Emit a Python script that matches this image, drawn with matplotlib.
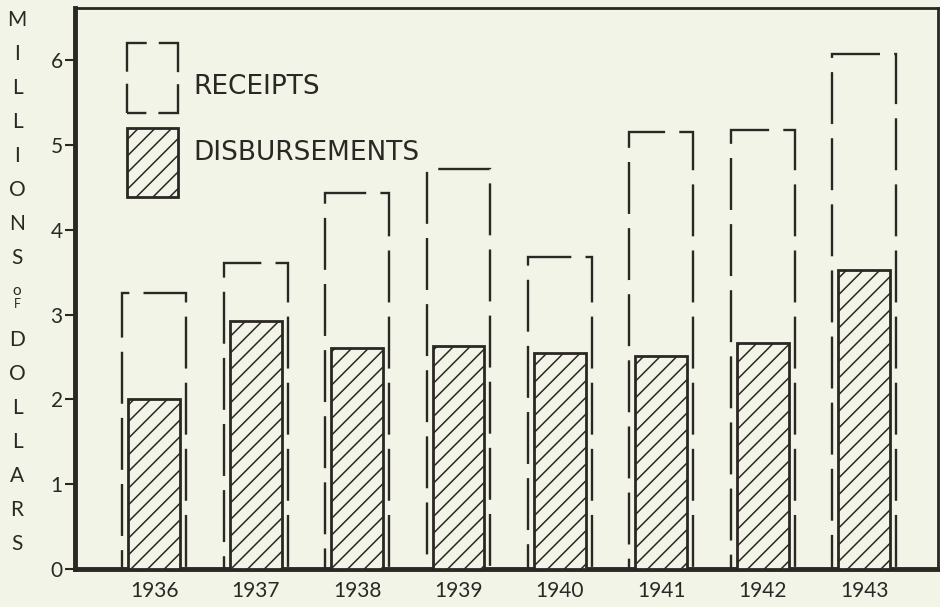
import matplotlib
matplotlib.use("Agg")
import matplotlib.pyplot as plt
from matplotlib.patches import Rectangle
import numpy as np

# data (millions of dollars)
years = ["1936", "1937", "1938", "1939", "1940", "1941", "1942", "1943"]
receipts = [3.25, 3.61, 4.43, 4.72, 3.68, 5.15, 5.18, 6.07]
disbursements = [2.00, 2.92, 2.60, 2.63, 2.55, 2.51, 2.67, 3.53]
yticks = [0, 1, 2, 3, 4, 5, 6]

bg = "#f2f4e7"
ink = "#2b2724"
plt.rcParams["font.family"] = ["Lato", "DejaVu Sans"]
plt.rcParams["hatch.linewidth"] = 1.1
plt.rcParams["hatch.color"] = ink

fig = plt.figure(figsize=(9.4, 6.07), dpi=100, facecolor=bg)
ax = fig.add_axes([0.080, 0.063, 0.918, 0.924], facecolor=bg)

x = np.arange(len(years))
ax.bar(x, receipts, width=0.63, fill=False, edgecolor=ink, linewidth=1.7,
       linestyle=(0, (22, 6)), zorder=2)
ax.bar(x, disbursements, width=0.51, facecolor=bg, edgecolor=ink,
       linewidth=2.0, hatch="//", zorder=3)

ax.set_xlim(-0.78, 7.73)
ax.set_ylim(0, 6.62)

ax.set_yticks(yticks)
ax.set_yticklabels([str(t) for t in yticks], fontsize=15, color=ink)
ax.tick_params(axis="y", direction="out", length=7, width=1.5, color=ink, pad=2)
ax.set_xticks(x)
ax.set_xticklabels(years, fontsize=15, color=ink)
ax.tick_params(axis="x", length=0, pad=9)

for side in ["left", "bottom"]:
    ax.spines[side].set_linewidth(3.5)
    ax.spines[side].set_color(ink)
for side in ["top", "right"]:
    ax.spines[side].set_linewidth(2.0)
    ax.spines[side].set_color(ink)

# legend, drawn by hand like the original
ax.add_patch(Rectangle((0.060, 0.813), 0.059, 0.125, transform=ax.transAxes,
                       fill=False, edgecolor=ink, linewidth=1.7,
                       linestyle=(12.3, (20.5, 5.1)), clip_on=False))
ax.add_patch(Rectangle((0.060, 0.663), 0.059, 0.123, transform=ax.transAxes,
                       facecolor=bg, edgecolor=ink, linewidth=2.0, hatch="//",
                       clip_on=False))
ax.text(0.137, 0.859, "RECEIPTS", transform=ax.transAxes, fontsize=19,
        family="DejaVu Sans", va="center", ha="left", color=ink)
ax.text(0.137, 0.742, "DISBURSEMENTS", transform=ax.transAxes, fontsize=19,
        family="DejaVu Sans", va="center", ha="left", color=ink)

# stacked y label
label_top = list("MILLIONS")
label_bot = list("DOLLARS")
y0 = 1 - 20 / 607
step = 34 / 607
for i, ch in enumerate(label_top):
    fig.text(17 / 940, y0 - i * step, ch, fontsize=15, ha="center", va="center", color=ink)
fig.text(17 / 940, 1 - 291 / 607, "o", fontsize=11, ha="center", va="center", color=ink)
fig.text(17 / 940, 1 - 304 / 607, "F", fontsize=9, ha="center", va="center", color=ink)
y1 = 1 - 340 / 607
for i, ch in enumerate(label_bot):
    fig.text(17 / 940, y1 - i * step, ch, fontsize=15, ha="center", va="center", color=ink)

fig.savefig("out.png", dpi=100, facecolor=bg)
